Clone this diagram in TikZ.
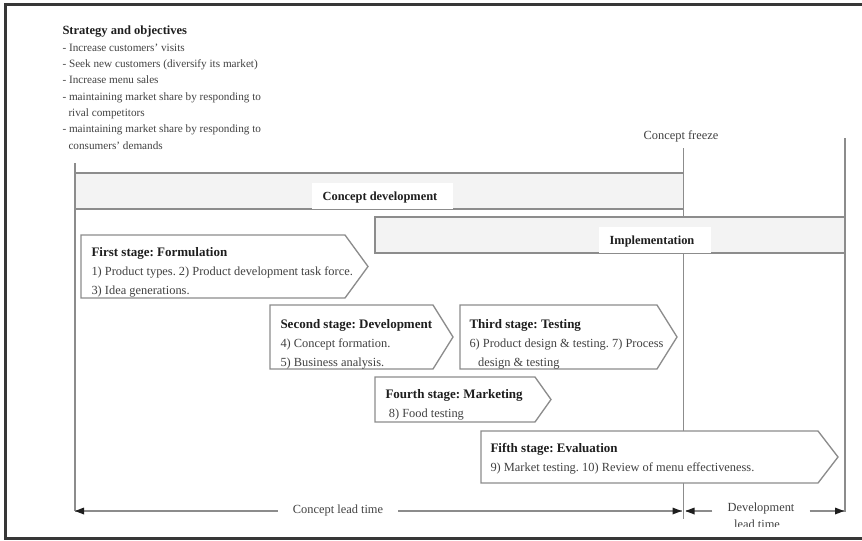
\documentclass[tikz,border=0pt]{standalone}
\usepackage{fontspec}
\setmainfont{Liberation Serif}
\frenchspacing

\definecolor{framegray}{RGB}{55,55,55}
\definecolor{linegray}{RGB}{140,140,140}
\definecolor{bandfill}{RGB}{243,243,243}
\definecolor{textgray}{RGB}{65,65,65}
\definecolor{titlegray}{RGB}{30,30,30}

\tikzset{every picture/.style={line width=0.75pt}}
\tikzset{
  guide/.style={draw=linegray, line width=1.1pt},
  band/.style={draw=linegray, fill=bandfill, line width=1pt},
  stagebox/.style={draw=linegray, fill=white, line width=1pt},
  stagetext/.style={anchor=north west, inner sep=0pt, align=left, text=textgray,
    font=\fontsize{9.3}{14.5}\selectfont},
  bandlabel/.style={inner sep=0pt, text=titlegray, font=\fontsize{9.3}{11}\selectfont\bfseries},
  plainlabel/.style={inner sep=0pt, text=textgray, font=\fontsize{9.3}{11}\selectfont},
  spanlabel/.style={inner ysep=0pt, inner xsep=11pt, text=textgray, font=\fontsize{9.3}{11}\selectfont},
}
\newcommand{\stagehead}[1]{{\color{titlegray}\fontsize{9.75}{14.5}\selectfont\bfseries #1}}

\begin{document}
\begin{tikzpicture}[x=0.75pt,y=0.75pt,yscale=-1,xscale=1]
\useasboundingbox (0,0) rectangle (862,540);

%Frame
\draw [framegray, line width=2.25pt] (862,4) -- (5,4) -- (5,538.5) -- (862,538.5) ;

% Text Node
\node (strategy) [stagetext, font=\fontsize{8.4}{12.25}\selectfont] at (62,25.5)
  {{\color{titlegray}\fontsize{9.4}{12.25}\selectfont\bfseries Strategy and objectives}\\
   - Increase customers’ visits\\
   - Seek new customers (diversify its market)\\
   - Increase menu sales\\
   - maintaining market share by responding to\\
   \hspace*{4.5pt}rival competitors\\
   - maintaining market share by responding to\\
   \hspace*{4.5pt}consumers’ demands};

%Vertical lines
\coordinate (leftTop) at (75,163);
\coordinate (cltL) at (75,511);
\coordinate (freezeTop) at (683.5,148);
\coordinate (freezeBot) at (683.5,519);
\coordinate (cltR) at (681.5,511);
\coordinate (dltL) at (685.5,511);
\coordinate (rightTop) at (845,138);
\coordinate (rightBot) at (845,512);
\coordinate (dltR) at (844,511);
\draw [guide] (leftTop) -- (cltL) ;
\draw [guide] (freezeTop) -- (freezeBot) ;
\draw [guide] (rightTop) -- (rightBot) ;

% Text Node
\node (freeze) [plainlabel] at (681,136) {Concept freeze};

%Shape: Rectangle
\draw [band] (75,173) rectangle (683.5,209) ;
\fill [white] (312,183) rectangle (453,208.5) ;
\node (cdev) [bandlabel] at (380,198) {Concept development};

%Shape: Rectangle
\draw [band] (375,217) rectangle (845,253) ;
\fill [white] (599,227) rectangle (711,252.5) ;
\node (impl) [bandlabel] at (652,242) {Implementation};

%Shape: Pentagon
\draw [stagebox] (81,235) -- (345,235) -- (368,266.5) -- (345,298) -- (81,298) -- cycle ;
\node (first) [stagetext] at (91,246.5)
  {\stagehead{First stage: Formulation}\\
   1) Product types. 2) Product development task force.\\
   3) Idea generations.};

%Shape: Pentagon
\draw [stagebox] (270,305) -- (433,305) -- (453,337) -- (433,369) -- (270,369) -- cycle ;
\node (second) [stagetext] at (280,318.5)
  {\stagehead{Second stage: Development}\\
   4) Concept formation.\\
   5) Business analysis.};

%Shape: Pentagon
\draw [stagebox] (460,305) -- (657,305) -- (677,337) -- (657,369) -- (460,369) -- cycle ;
\node (third) [stagetext] at (469,318.5)
  {\stagehead{Third stage: Testing}\\
   6) Product design \& testing. 7) Process\\
   \hspace*{6.5pt}design \& testing};

%Shape: Pentagon
\draw [stagebox] (375,377) -- (535,377) -- (551,399.5) -- (535,422) -- (375,422) -- cycle ;
\node (fourth) [stagetext] at (385,388.5)
  {\stagehead{Fourth stage: Marketing}\\
   \hspace*{2.5pt}8) Food testing};

%Shape: Pentagon
\draw [stagebox] (481,431) -- (818,431) -- (838,457) -- (818,483) -- (481,483) -- cycle ;
\node (fifth) [stagetext] at (490,442.5)
  {\stagehead{Fifth stage: Evaluation}\\
   9) Market testing. 10) Review of menu effectiveness.};

%Lead time spans
\node (clt) [spanlabel] at (338,511) {Concept lead time};
\draw [guide] (clt.west) -- (cltL) ;
\draw [guide] (clt.east) -- (cltR) ;
\draw [shift={(cltL)}, rotate=0] [fill=titlegray][draw opacity=0] (9,-3.5) -- (0,0) -- (9,3.5) -- cycle ;
\draw [shift={(cltR)}, rotate=180] [fill=titlegray][draw opacity=0] (9,-3.5) -- (0,0) -- (9,3.5) -- cycle ;

\node (dlt) [spanlabel] at (761,509) {Development};
\draw [guide] (dlt.west |- dltL) -- (dltL) ;
\draw [guide] (dlt.east |- dltR) -- (dltR) ;
\draw [shift={(dltL)}, rotate=0] [fill=titlegray][draw opacity=0] (9,-3.5) -- (0,0) -- (9,3.5) -- cycle ;
\draw [shift={(dltR)}, rotate=180] [fill=titlegray][draw opacity=0] (9,-3.5) -- (0,0) -- (9,3.5) -- cycle ;
\begin{scope}
\clip (700,515) rectangle (820,526.5) ;
\node (dlt2) [plainlabel] at (757,524) {lead time};
\end{scope}

\end{tikzpicture}
\end{document}
